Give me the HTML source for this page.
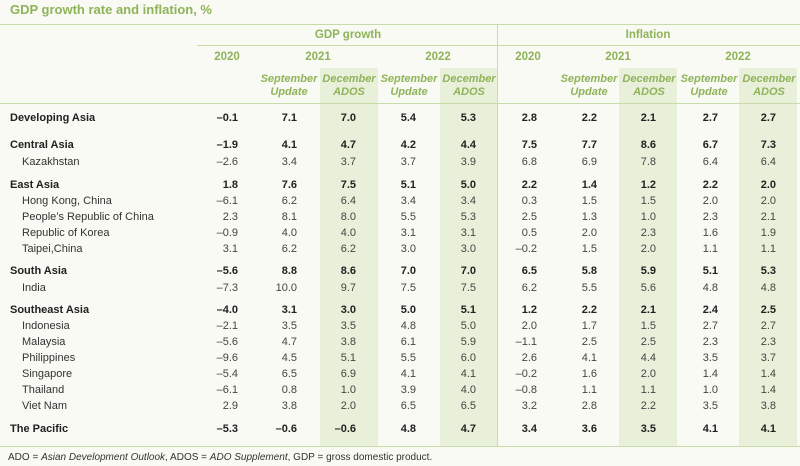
<!DOCTYPE html>
<html><head><meta charset="utf-8"><style>
body{margin:0;width:800px;height:466px;background:#f8faf3;font-family:"Liberation Sans",sans-serif;position:relative;overflow:hidden}
.a{position:absolute}
.g{color:#8fb35a}
.t{font-size:13px;font-weight:bold;left:10px;top:2px}
.line{position:absolute;background:#c8dcaa;height:1px}
.shade{position:absolute;background:#e8f0da;top:68px;height:378px;width:58px}
.h{font-size:11.5px;font-weight:bold;color:#8fb35a;text-align:center;transform:translateX(-50%)}
.s{font-size:11px;font-weight:bold;font-style:italic;color:#8fb35a;text-align:center;line-height:13px;width:70px;margin-left:-35px}
.lab{font-size:11px;color:#333;left:10px;transform:translateY(-50%)}
.v{font-size:11px;color:#444;text-align:right;width:50px;transform:translateY(-50%)}
.b{font-weight:bold;color:#222}
.fn{font-size:10px;color:#333;left:8px;top:452px}
</style></head><body>
<div class="a g t">GDP growth rate and inflation, %</div>
<div class="line" style="left:0;top:24px;width:800px"></div>
<div class="shade" style="left:320px"></div>
<div class="shade" style="left:440px"></div>
<div class="shade" style="left:619px"></div>
<div class="shade" style="left:739px"></div>
<div style="position:absolute;left:497px;top:24px;width:1px;height:422px;background:#c8dcaa"></div>
<div class="a h" style="left:348px;top:29px">GDP growth</div>
<div class="a h" style="left:648px;top:29px">Inflation</div>
<div class="line" style="left:197px;top:45px;width:300px"></div>
<div class="line" style="left:498px;top:45px;width:302px"></div>
<div class="a h" style="left:227px;top:51px">2020</div>
<div class="a h" style="left:318px;top:51px">2021</div>
<div class="a h" style="left:438px;top:51px">2022</div>
<div class="a h" style="left:528px;top:51px">2020</div>
<div class="a h" style="left:618px;top:51px">2021</div>
<div class="a h" style="left:738px;top:51px">2022</div>
<div class="a s" style="left:289px;top:73px">September Update</div>
<div class="a s" style="left:349px;top:73px">December ADOS</div>
<div class="a s" style="left:409px;top:73px">September Update</div>
<div class="a s" style="left:469px;top:73px">December ADOS</div>
<div class="a s" style="left:589px;top:73px">September Update</div>
<div class="a s" style="left:649px;top:73px">December ADOS</div>
<div class="a s" style="left:709px;top:73px">September Update</div>
<div class="a s" style="left:769px;top:73px">December ADOS</div>
<div class="line" style="left:0;top:103px;width:800px"></div>
<div class="line" style="left:0;top:446px;width:800px"></div>
<div class="a fn">ADO = <i>Asian Development Outlook</i>, ADOS = <i>ADO Supplement</i>, GDP = gross domestic product.</div>
<div id="rows"></div>
<script>
const labels=["Developing Asia","Central Asia","Kazakhstan","East Asia","Hong Kong, China","People’s Republic of China","Republic of Korea","Taipei,China","South Asia","India","Southeast Asia","Indonesia","Malaysia","Philippines","Singapore","Thailand","Viet Nam","The Pacific"];
const bold=[1,1,0,1,0,0,0,0,1,0,1,0,0,0,0,0,0,1];
const rowY=[118,145,162,185,201,217,233,249,271,288,310,326,342,358,374,390,406,429];
const values=[
["–0.1","7.1","7.0","5.4","5.3","2.8","2.2","2.1","2.7","2.7"],
["–1.9","4.1","4.7","4.2","4.4","7.5","7.7","8.6","6.7","7.3"],
["–2.6","3.4","3.7","3.7","3.9","6.8","6.9","7.8","6.4","6.4"],
["1.8","7.6","7.5","5.1","5.0","2.2","1.4","1.2","2.2","2.0"],
["–6.1","6.2","6.4","3.4","3.4","0.3","1.5","1.5","2.0","2.0"],
["2.3","8.1","8.0","5.5","5.3","2.5","1.3","1.0","2.3","2.1"],
["–0.9","4.0","4.0","3.1","3.1","0.5","2.0","2.3","1.6","1.9"],
["3.1","6.2","6.2","3.0","3.0","–0.2","1.5","2.0","1.1","1.1"],
["–5.6","8.8","8.6","7.0","7.0","6.5","5.8","5.9","5.1","5.3"],
["–7.3","10.0","9.7","7.5","7.5","6.2","5.5","5.6","4.8","4.8"],
["–4.0","3.1","3.0","5.0","5.1","1.2","2.2","2.1","2.4","2.5"],
["–2.1","3.5","3.5","4.8","5.0","2.0","1.7","1.5","2.7","2.7"],
["–5.6","4.7","3.8","6.1","5.9","–1.1","2.5","2.5","2.3","2.3"],
["–9.6","4.5","5.1","5.5","6.0","2.6","4.1","4.4","3.5","3.7"],
["–5.4","6.5","6.9","4.1","4.1","–0.2","1.6","2.0","1.4","1.4"],
["–6.1","0.8","1.0","3.9","4.0","–0.8","1.1","1.1","1.0","1.4"],
["2.9","3.8","2.0","6.5","6.5","3.2","2.8","2.2","3.5","3.8"],
["–5.3","–0.6","–0.6","4.8","4.7","3.4","3.6","3.5","4.1","4.1"]];
const colRight=[238,297,356,416,476,537,597,656,718,776];
const root=document.getElementById('rows');
labels.forEach((l,i)=>{
  const d=document.createElement('div');
  d.className='a lab'+(bold[i]?' b':'');
  
  
  d.style.top=rowY[i]+'px';
  if(!bold[i]) d.style.left='22px';
  d.textContent=l;root.appendChild(d);
  values[i].forEach((v,j)=>{
    const c=document.createElement('div');
    c.className='a v'+(bold[i]?' b':'');
    
    
    c.style.top=rowY[i]+'px';c.style.left=(colRight[j]-50)+'px';
    c.textContent=v;root.appendChild(c);
  });
});
</script>
</body></html>
